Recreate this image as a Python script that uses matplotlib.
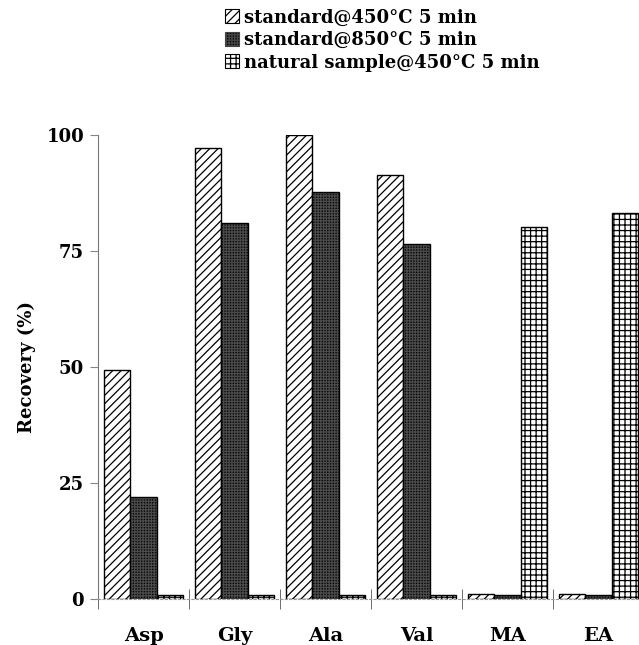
import matplotlib
matplotlib.use("Agg")
import matplotlib.pyplot as plt
from matplotlib.patches import Patch
import numpy as np

categories = ["Asp", "Gly", "Ala", "Val", "MA", "EA"]
series_names = ["standard@450°C 5 min", "standard@850°C 5 min", "natural sample@450°C 5 min"]
std450 = [49.4, 97.3, 100.0, 91.4, 1.0, 1.0]
std850 = [22.0, 81.0, 87.7, 76.5, 0.8, 0.8]
natural = [0.9, 0.9, 0.9, 0.9, 80.2, 83.2]
yticks = [0, 25, 50, 75, 100]

plt.rcParams['font.family'] = ['DejaVu Serif']
plt.rcParams['font.weight'] = 'bold'
plt.rcParams['hatch.linewidth'] = 0.9

fig = plt.figure(figsize=(6.39, 6.45), dpi=100)
ax = fig.add_axes([98/639, 1-599/645, 546/639, 464/645])

x = np.arange(len(categories))
w = 0.286

ax.bar(x - w, std450, w, facecolor='white', edgecolor='black', hatch='////', linewidth=1.0, zorder=2)
ax.bar(x, std850, w, facecolor='#0a0a0a', edgecolor='#4a4a4a', hatch='++++++', linewidth=0, zorder=2)
ax.bar(x, std850, w, fill=False, edgecolor='black', linewidth=1.0, zorder=3)
ax.bar(x + w, natural, w, facecolor='white', edgecolor='black', hatch='+++', linewidth=1.0, zorder=2)

ax.set_xlim(-0.5, len(categories) - 0.5)
ax.set_ylim(0, 100)
ax.set_yticks(yticks)
ax.set_yticklabels([str(v) for v in yticks], fontsize=13, fontweight='bold')
ax.tick_params(axis='y', direction='out', length=6, color='#888888', pad=4)

ax.set_xticks(x)
ax.set_xticklabels(categories, fontsize=14, fontweight='bold')
ax.set_xticks(np.arange(len(categories) + 1) - 0.5, minor=True)
ax.tick_params(axis='x', which='major', length=0, pad=20)
ax.tick_params(axis='x', which='minor', direction='inout', length=14, color='#555555')

for s in ['top', 'right']:
    ax.spines[s].set_visible(False)
ax.spines['left'].set_color('#777777')
ax.spines['bottom'].set_color('#999999')
ax.spines['bottom'].set_linestyle((0, (2, 2)))

ax.set_ylabel("Recovery (%)", fontsize=13, fontweight='bold')
ax.yaxis.set_label_coords(-(98 - 36) / 546, 0.5)

handles = [
    Patch(facecolor='white', edgecolor='black', hatch='////', linewidth=0.8),
    Patch(facecolor='#0a0a0a', edgecolor='#444444', hatch='++++++', linewidth=0.8),
    Patch(facecolor='white', edgecolor='black', hatch='+++', linewidth=0.8),
]
fig.legend(handles, series_names, loc='upper left', bbox_to_anchor=(212/639, 1 + 4/645),
           frameon=False, prop={'weight': 'bold', 'size': 13},
           handlelength=0.8, handleheight=0.8, handletextpad=0.3, labelspacing=0.25,
           borderpad=0.2)

fig.savefig("out.png", dpi=100)
